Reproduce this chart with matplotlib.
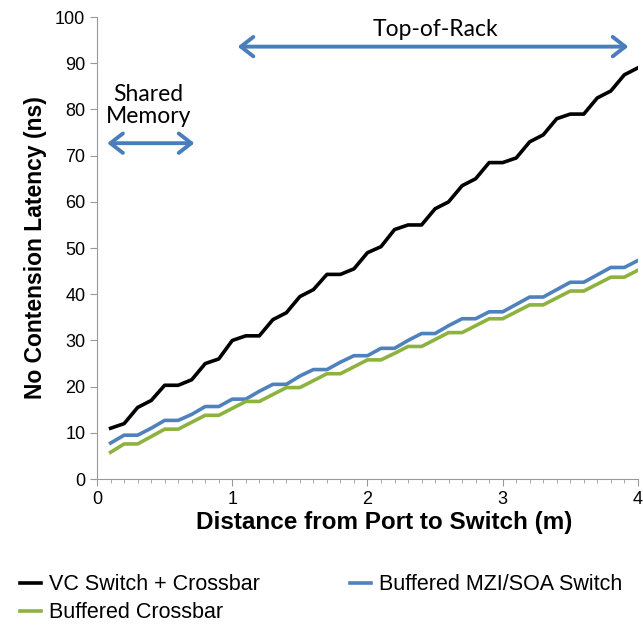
import numpy as np
import matplotlib.pyplot as plt
from matplotlib.ticker import MultipleLocator

plt.rcParams["font.family"] = ["Liberation Sans", "DejaVu Sans"]

# distance from port to switch (m)
distance = [round(0.1 * i, 1) for i in range(1, 41)]

vc_switch = [11, 12, 15.5, 17, 20.3, 20.3, 21.5, 25, 26, 30,
             31, 31, 34.5, 36, 39.5, 41, 44.3, 44.3, 45.5, 49,
             50.3, 54, 55, 55, 58.5, 60, 63.5, 65, 68.5, 68.5,
             69.5, 73, 74.5, 78, 79, 79, 82.5, 84, 87.5, 89]
mzi_soa = [7.8, 9.5, 9.5, 11, 12.7, 12.7, 14, 15.7, 15.7, 17.3,
           17.3, 19, 20.5, 20.5, 22.3, 23.7, 23.7, 25.3, 26.7, 26.7,
           28.3, 28.3, 30, 31.5, 31.5, 33.2, 34.7, 34.7, 36.2, 36.2,
           37.8, 39.4, 39.4, 41, 42.6, 42.6, 44.2, 45.8, 45.8, 47.3]
buf_crossbar = [5.8, 7.6, 7.6, 9.2, 10.8, 10.8, 12.3, 13.8, 13.8, 15.3,
                16.8, 16.8, 18.3, 19.8, 19.8, 21.3, 22.8, 22.8, 24.3, 25.8,
                25.8, 27.2, 28.7, 28.7, 30.2, 31.7, 31.7, 33.2, 34.7, 34.7,
                36.2, 37.7, 37.7, 39.2, 40.7, 40.7, 42.2, 43.7, 43.7, 45.2]

ARROW = "#4a7ebb"
ARROW_STYLE = dict(arrowstyle="<->, head_length=0.45, head_width=0.35", color=ARROW,
                   lw=2.8, mutation_scale=20, shrinkA=0, shrinkB=0)

fig = plt.figure(figsize=(6.43, 6.32), dpi=100)
ax = fig.add_axes([0.151, 0.242, 0.841, 0.731])

l1, = ax.plot(distance, vc_switch, color="black", lw=2.6, label="VC Switch + Crossbar")
l2, = ax.plot(distance, mzi_soa, color="#4f81bd", lw=2.6, label="Buffered MZI/SOA Switch")
l3, = ax.plot(distance, buf_crossbar, color="#8db33e", lw=2.6, label="Buffered Crossbar")

ax.set_xlim(0, 4)
ax.set_ylim(0, 100)
ax.xaxis.set_major_locator(MultipleLocator(1))
ax.xaxis.set_minor_locator(MultipleLocator(0.1))
ax.yaxis.set_major_locator(MultipleLocator(10))
for side in ["top", "right"]:
    ax.spines[side].set_visible(False)
for side in ["left", "bottom"]:
    ax.spines[side].set_color("#999999")
ax.tick_params(axis="both", which="both", color="#999999", direction="out")
ax.tick_params(axis="both", which="major", length=5, labelsize=13)
ax.tick_params(axis="x", which="minor", length=3)

ax.set_xlabel("Distance from Port to Switch (m)", fontsize=17.5, fontweight="bold")
ax.xaxis.set_label_coords(0.53, -0.069, transform=ax.transAxes)
ax.xaxis.label.set_va("top")
ax.set_ylabel("No Contension Latency (ns)", fontsize=16.5, fontweight="bold", labelpad=6)

# region annotations
ax.annotate("", xy=(0.075, 72.7), xytext=(0.72, 72.7), arrowprops=ARROW_STYLE)
ax.text(0.38, 80.8, "Shared\nMemory", ha="center", va="center", fontsize=16.5,
        family="Lato", linespacing=1.05)
ax.annotate("", xy=(1.04, 93.6), xytext=(3.93, 93.6), arrowprops=ARROW_STYLE)
ax.text(2.5, 97.3, "Top-of-Rack", ha="center", va="center", fontsize=16.5, family="Lato")

fig.legend(handles=[l1, l3, l2], loc="upper left", bbox_to_anchor=(0.017, 0.105),
           borderaxespad=0, ncol=2, frameon=False, fontsize=15.5, handlelength=1.0,
           handletextpad=0.35, columnspacing=4.2, labelspacing=0.33)

fig.savefig("out.png", dpi=100)
